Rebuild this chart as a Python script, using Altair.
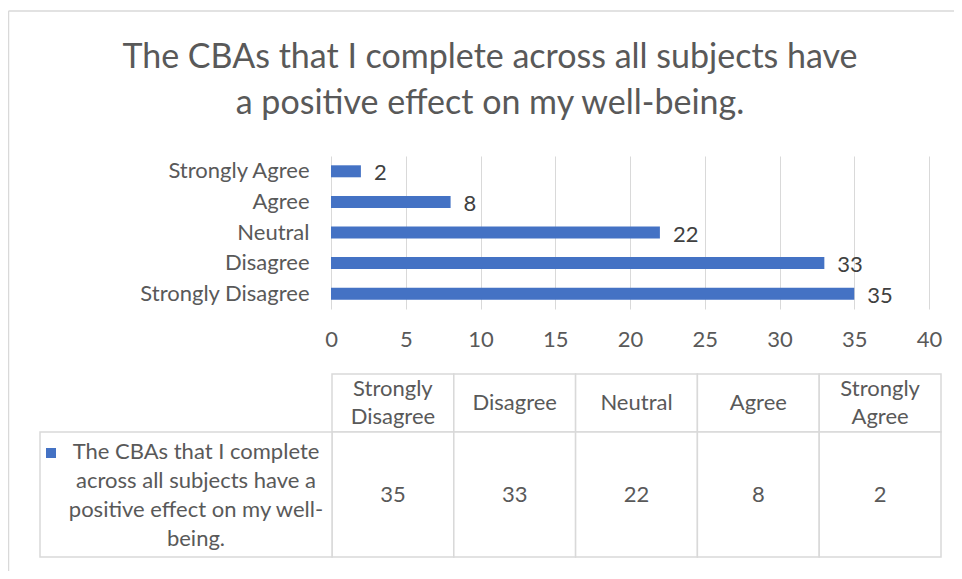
import altair as alt
import pandas as pd

# ---- data ----
categories = ["Strongly Disagree", "Disagree", "Neutral", "Agree", "Strongly Agree"]
counts = [35, 33, 22, 8, 2]
x_ticks = [0, 5, 10, 15, 20, 25, 30, 35, 40]
title_lines = ["The CBAs that I complete across all subjects have",
               "a positive effect on my well-being."]
series_lines = ["The CBAs that I complete", "across all subjects have a",
                "positive effect on my well-", "being."]

FONT = "Lato"
TEXT = "#595959"
LABEL = "#404040"
GRID = "#D9D9D9"
BLUE = "#4472C4"
FS = 22

df = pd.DataFrame({"category": categories, "count": counts})
df["header"] = df["category"].str.replace("Strongly ", "Strongly\n")
df["two_lines"] = df["header"].str.contains("\n")
series_df = pd.DataFrame({"series": ["\n".join(series_lines)]})
frame_df = pd.DataFrame({"k": [0]})

bar_order = categories[::-1]

x_enc = alt.X("count:Q",
              scale=alt.Scale(domain=[0, 40], nice=False),
              axis=alt.Axis(values=x_ticks, title=None, grid=True, gridColor=GRID,
                            domain=False, ticks=False, labelFont=FONT, labelFlush=False,
                            labelFontSize=FS, labelColor=TEXT, labelPadding=20))
y_enc = alt.Y("category:N", sort=bar_order,
              scale=alt.Scale(domain=bar_order, paddingInner=0, paddingOuter=0),
              axis=alt.Axis(title=None, domain=False, ticks=False, labelFont=FONT,
                            labelFontSize=FS, labelColor=TEXT, labelPadding=22))

bars = alt.Chart(df).mark_bar(size=12, color=BLUE).encode(x=x_enc, y=y_enc)
bar_labels = alt.Chart(df).mark_text(align="left", baseline="middle", dx=13, dy=2,
                                     font=FONT, fontSize=FS, color=LABEL).encode(
    x=alt.X("count:Q"), y=alt.Y("category:N", sort=bar_order), text="count:Q")
bar_layer = alt.layer(bars, bar_labels)

# ---- data table under the chart ----
tx = alt.X("category:N", sort=categories,
           scale=alt.Scale(domain=categories, range=[1, 610], paddingInner=0, paddingOuter=0),
           axis=None)
cell_style = dict(fill="white", stroke=GRID, strokeWidth=1.5)
header_cells = alt.Chart(df).mark_rect(**cell_style).encode(
    x=tx, y=alt.value(218), y2=alt.value(276))
value_cells = alt.Chart(df).mark_rect(**cell_style).encode(
    x=tx, y=alt.value(276), y2=alt.value(401))
series_cell = alt.Chart(series_df).mark_rect(**cell_style).encode(
    x=alt.value(-291), x2=alt.value(1), y=alt.value(276), y2=alt.value(401))
text_style = dict(lineBreak="\n", lineHeight=28, baseline="middle",
                  font=FONT, fontSize=FS, color=TEXT)
header_text_2 = alt.Chart(df).transform_filter("datum.two_lines").mark_text(
    **text_style).encode(x=tx, y=alt.value(233), text="header:N")
header_text_1 = alt.Chart(df).transform_filter("!datum.two_lines").mark_text(
    **text_style).encode(x=tx, y=alt.value(247), text="header:N")
value_text = alt.Chart(df).mark_text(baseline="middle", font=FONT, fontSize=FS,
                                     color=TEXT).encode(
    x=tx, y=alt.value(339), text="count:Q")
series_text = alt.Chart(series_df).mark_text(lineBreak="\n", lineHeight=29, baseline="middle",
                                             font=FONT, fontSize=FS, color=TEXT).encode(
    x=alt.value(-135), y=alt.value(296), text="series:N")
swatch = alt.Chart(series_df).mark_square(size=100, color=BLUE, opacity=1).encode(
    x=alt.value(-280), y=alt.value(297))
table_layer = alt.layer(header_cells, value_cells, series_cell, header_text_2,
                        header_text_1, value_text, series_text, swatch)

# ---- outer frame of the chart ----
frame_left = alt.Chart(frame_df).mark_rule(color=GRID, strokeWidth=1.5).encode(
    x=alt.value(-322.5), y=alt.value(-145), y2=alt.value(415))
frame_top = alt.Chart(frame_df).mark_rule(color=GRID, strokeWidth=1.5).encode(
    x=alt.value(-322.5), x2=alt.value(623), y=alt.value(-145))

chart = alt.layer(bar_layer, table_layer, frame_left, frame_top).resolve_scale(
    x="independent"
).properties(
    width=598, height=153,
    autosize="none",
    padding={"left": 323, "top": 148, "right": 25, "bottom": 262},
    title=alt.Title(title_lines, anchor="middle", frame="group", dx=-140, dy=111,
                    offset=0, baseline="top", font=FONT, fontSize=34,
                    fontWeight="normal", color=TEXT, lineHeight=46),
).configure_view(stroke=None)

chart.save("out.html", embed_options={"renderer": "svg", "actions": False})
